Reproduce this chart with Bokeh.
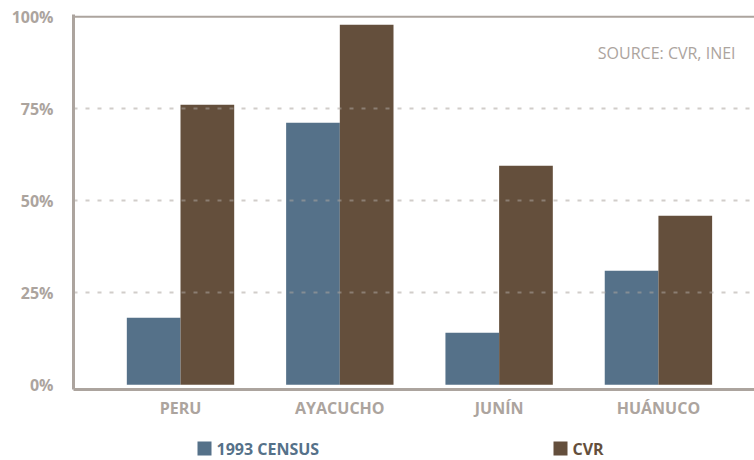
from bokeh.plotting import figure
from bokeh.layouts import column
from bokeh.models import (ColumnDataSource, Range1d, FixedTicker, PrintfTickFormatter,
                          Span, Label)
from bokeh.transform import dodge
from bokeh.core.properties import value
from bokeh.embed import file_html
from bokeh.resources import INLINE

categories = ["PERU", "AYACUCHO", "JUNÍN", "HUÁNUCO"]
census_1993 = [18.2, 71.2, 14.1, 31.0]
cvr = [76.1, 97.8, 59.5, 45.9]
y_ticks = [0, 25, 50, 75, 100]
series_names = ["1993 CENSUS", "CVR"]

BLUE = "#557189"
BROWN = "#644f3c"
GREY = "#aca49e"
FONT = "Open Sans"

src = ColumnDataSource(dict(x=list(range(len(categories))), census=census_1993, cvr=cvr))

p = figure(width=754, height=425, output_backend="svg", toolbar_location=None,
           x_range=Range1d(-0.6717, 3.603), y_range=Range1d(-1.3, 100.6),
           min_border_left=73, min_border_right=0, min_border_top=14, min_border_bottom=36)
p.outline_line_color = None
p.background_fill_color = "white"
p.border_fill_color = "white"

bw = 0.337
r1 = p.vbar(x=dodge("x", -bw / 2, range=p.x_range), top="census", width=bw, bottom=0,
            source=src, color=BLUE, line_color=None)
r2 = p.vbar(x=dodge("x", bw / 2, range=p.x_range), top="cvr", width=bw, bottom=0,
            source=src, color=BROWN, line_color=None)

# axes
p.xaxis.ticker = FixedTicker(ticks=list(range(len(categories))))
p.xaxis.major_label_overrides = {i: c for i, c in enumerate(categories)}
p.yaxis.ticker = FixedTicker(ticks=y_ticks)
p.yaxis.formatter = PrintfTickFormatter(format="%d%%")
for ax in (p.xaxis, p.yaxis):
    ax.axis_line_color = GREY
    ax.axis_line_width = 3
    ax.major_tick_line_color = None
    ax.minor_tick_line_color = None
    ax.major_tick_out = 0
    ax.major_tick_in = 0
    ax.major_label_text_font = FONT
    ax.major_label_text_font_style = "bold"
    ax.major_label_text_font_size = "16px"
    ax.major_label_text_color = GREY
p.yaxis.major_label_standoff = 20
p.xaxis.major_label_standoff = 7

p.xgrid.grid_line_color = None
p.ygrid.ticker = FixedTicker(ticks=[25, 50, 75])
p.ygrid.grid_line_color = GREY
p.ygrid.grid_line_alpha = 0.55
p.ygrid.grid_line_width = 2
p.ygrid.grid_line_dash = "4 8"
p.ygrid.level = "overlay"

p.add_layout(Span(location=100, dimension="width", line_color=GREY, line_width=2))

p.add_layout(Label(x=3.484, y=90.2, text="SOURCE: CVR, INEI", text_align="right",
                   text_baseline="middle", text_font=FONT, text_font_size="16px",
                   text_color=GREY))

# legend strip (its frame is aligned with the main frame: 73..754 px)
lg = figure(width=754, height=35, output_backend="svg", toolbar_location=None,
            x_range=Range1d(73, 754), y_range=Range1d(35, 0),
            min_border_left=73, min_border_right=0, min_border_top=0, min_border_bottom=0)
lg.axis.visible = False
lg.grid.visible = False
lg.outline_line_color = None
lg.background_fill_color = "white"
lg.border_fill_color = "white"

leg_src = ColumnDataSource(dict(
    sx=[204, 560], tx=[216, 572], y=[23, 23],
    label=series_names, color=[BLUE, BROWN]))
lg.rect(x="sx", y="y", width=14, height=14, source=leg_src,
        fill_color="color", line_color=None)
lg.text(x="tx", y="y", text="label", source=leg_src, text_color="color",
        text_font=value(FONT), text_baseline="middle",
        text_font_size="16px", text_font_style="bold")

layout = column(p, lg, spacing=0)
open("out.html", "w").write(file_html(layout, INLINE))
